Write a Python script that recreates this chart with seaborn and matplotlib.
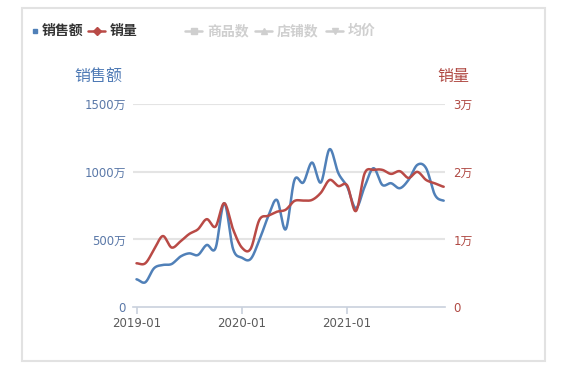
import numpy as np
import pandas as pd
import matplotlib
matplotlib.use("Agg")
import matplotlib.pyplot as plt
from matplotlib.lines import Line2D
from matplotlib.patches import Rectangle
import seaborn as sns

# ---- data ----
months = pd.date_range("2019-01", periods=36, freq="MS").strftime("%Y-%m").tolist()
sales = [205, 183, 287, 311, 318, 373, 397, 385, 459, 435, 768, 430,
         365, 355, 496, 669, 792, 575, 940, 921, 1069, 921, 1168, 990,
         891, 731, 891, 1027, 904, 916, 879, 941, 1052, 1027, 830, 787]   # 万
volume = [0.647, 0.647, 0.85, 1.05, 0.88, 0.97, 1.08, 1.15, 1.30, 1.19, 1.536, 1.15,
          0.88, 0.86, 1.29, 1.35, 1.41, 1.44, 1.57, 1.575, 1.585, 1.69, 1.88, 1.79,
          1.80, 1.42, 1.98, 2.03, 2.03, 1.97, 2.01, 1.91, 2.00, 1.88, 1.83, 1.78]  # 万
left_ticks = [0, 500, 1000, 1500]
left_labels = ["0", "500万", "1000万", "1500万"]
right_ticks = [0, 1, 2, 3]
right_labels = ["0", "1万", "2万", "3万"]
xtick_labels = ["2019-01", "2020-01", "2021-01"]
legend_items = ["销售额", "销量", "商品数", "店铺数", "均价"]

BLUE = "#5080b8"
RED = "#b94a46"
GRID = "#e4e4e4"

def smooth(y, n=16):
    y = np.asarray(y, float)
    p = np.concatenate([[y[0]], y, [y[-1]]])
    xs, ys = [], []
    for i in range(len(y) - 1):
        p0, p1, p2, p3 = p[i], p[i + 1], p[i + 2], p[i + 3]
        t = np.linspace(0, 1, n, endpoint=False)
        v = 0.5 * ((2 * p1) + (-p0 + p2) * t + (2 * p0 - 5 * p1 + 4 * p2 - p3) * t ** 2
                   + (-p0 + 3 * p1 - 3 * p2 + p3) * t ** 3)
        xs.append(i + t)
        ys.append(v)
    xs.append([len(y) - 1])
    ys.append([y[-1]])
    return np.concatenate(xs), np.concatenate(ys)

sns.set_theme(style="white")
plt.rcParams["font.family"] = ["Noto Sans CJK SC", "DejaVu Sans"]
TICKFONT = ["DejaVu Sans", "Noto Sans CJK SC"]

fig = plt.figure(figsize=(5.72, 3.73), dpi=100)
fig.patch.set_facecolor("white")
fig.add_artist(Rectangle((22 / 572, 1 - 361 / 373), (545 - 22) / 572, (361 - 8) / 373,
                         transform=fig.transFigure, fill=False, ec="#e2e2e2", lw=1.5))

ax = fig.add_axes([133 / 572, 1 - 307 / 373, (445 - 133) / 572, (307 - 104.3) / 373])
ax2 = ax.twinx()

xs, ys = smooth(sales)
sns.lineplot(x=xs, y=ys, ax=ax, color=BLUE, lw=1.8, sort=False, zorder=3)
xs2, ys2 = smooth(volume)
sns.lineplot(x=xs2, y=ys2, ax=ax2, color=RED, lw=1.8, sort=False, zorder=3)

ax.set_xlim(-0.4, 35.15)
ax.set_ylim(0, 1500)
ax2.set_ylim(0, 3)
ax.set_yticks(left_ticks)
ax.set_yticklabels(left_labels, family=TICKFONT)
ax2.set_yticks(right_ticks)
ax2.set_yticklabels(right_labels, family=TICKFONT)
ax.set_xticks([months.index(m) for m in xtick_labels])
ax.set_xticklabels(xtick_labels, family=TICKFONT)

for a in (ax, ax2):
    for s in a.spines.values():
        s.set_visible(False)
ax.spines["bottom"].set_visible(True)
ax.spines["bottom"].set_color("#c9d1dd")
ax.spines["bottom"].set_linewidth(1.2)
for yv in left_ticks[1:]:
    ax.axhline(yv, color=GRID, lw=1.5, zorder=1)

ax.tick_params(axis="y", length=0, pad=5, labelsize=8.5, labelcolor="#5a78a8")
ax2.tick_params(axis="y", length=0, pad=6, labelsize=8.5, labelcolor="#b04a44")
ax.tick_params(axis="x", length=5, width=1.2, color="#c9d1dd", pad=2, labelsize=8.5,
               labelcolor="#5a5a5a", bottom=True)
ax.set_xlabel("")
ax.set_ylabel("")
ax2.set_ylabel("")
ax2.grid(False)
ax.grid(False)

fig.text(98 / 572, 1 - 77 / 373, "销售额", color="#4f7ab5", fontsize=11.5, ha="center", va="center")
fig.text(453 / 572, 1 - 77 / 373, "销量", color="#b04a44", fontsize=11.5, ha="center", va="center")

# legend
ly = 1 - 31 / 373
def fx(px):
    return px / 572
fig.add_artist(Line2D([fx(35)], [ly], marker="s", ms=2.2, color=BLUE, ls="none", transform=fig.transFigure))
fig.text(fx(42), ly, legend_items[0], fontsize=10, fontweight="bold", color="#333333", va="center")
fig.add_artist(Line2D([fx(88), fx(105)], [ly, ly], color=RED, lw=1.8, transform=fig.transFigure))
fig.add_artist(Line2D([fx(96.5)], [ly], color=RED, marker="D", ms=3.8, ls="none", transform=fig.transFigure))
fig.text(fx(110), ly, legend_items[1], fontsize=10, fontweight="bold", color="#333333", va="center")
GR = "#cfcfcf"
items = [(185, 207, "s", legend_items[2]), (255, 277, "^", legend_items[3]), (326, 348, "v", legend_items[4])]
for x0, tx, mk, lab in items:
    fig.add_artist(Line2D([fx(x0), fx(x0 + 17)], [ly, ly], color=GR, lw=1.8, transform=fig.transFigure))
    fig.add_artist(Line2D([fx(x0 + 8.5)], [ly], color=GR, marker=mk, ms=4, ls="none", transform=fig.transFigure))
    fig.text(fx(tx), ly, lab, fontsize=10, fontweight="bold", color=GR, va="center")

fig.savefig("out.png", dpi=100, facecolor="white")
